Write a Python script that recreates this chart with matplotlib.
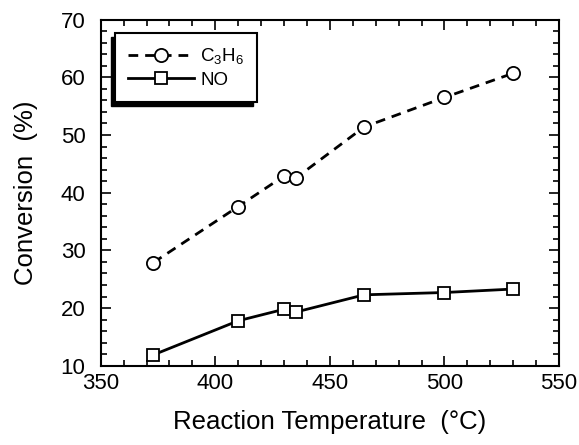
import matplotlib
matplotlib.use("Agg")
import matplotlib.pyplot as plt
from matplotlib.ticker import MultipleLocator
from matplotlib.patches import Rectangle
from matplotlib.transforms import IdentityTransform

plt.rcParams['font.family'] = ['Liberation Sans', 'DejaVu Sans']
plt.rcParams['mathtext.fontset'] = 'custom'
plt.rcParams['mathtext.rm'] = 'Liberation Sans'
plt.rcParams['mathtext.default'] = 'regular'

temps = [373, 410, 430, 435, 465, 500, 530]
c3h6 = [27.9, 37.6, 42.9, 42.5, 51.4, 56.5, 60.7]
no = [11.9, 17.8, 19.8, 19.3, 22.3, 22.7, 23.3]

fig = plt.figure(figsize=(5.79, 4.45), dpi=100)
ax = fig.add_axes([0.174, 0.178, 0.7915, 0.778])

ax.plot(temps, c3h6, linestyle=(0, (3.5, 2.5)), color='black', linewidth=2.0,
        marker='o', markersize=9.5, markerfacecolor='white', markeredgecolor='black',
        markeredgewidth=1.3, label='C$_3$H$_6$')
ax.plot(temps, no, linestyle='-', color='black', linewidth=2.0,
        marker='s', markersize=8.5, markerfacecolor='white', markeredgecolor='black',
        markeredgewidth=1.3, label='NO')

ax.set_xlim(350, 550)
ax.set_ylim(10, 70)
ax.xaxis.set_major_locator(MultipleLocator(50))
ax.xaxis.set_minor_locator(MultipleLocator(10))
ax.yaxis.set_major_locator(MultipleLocator(10))
ax.yaxis.set_minor_locator(MultipleLocator(2))
ax.tick_params(which='both', direction='in', top=True, right=True, width=1.2)
ax.tick_params(which='major', length=7)
ax.tick_params(which='minor', length=4)
ax.tick_params(axis='x', which='major', labelsize=16, pad=5)
ax.tick_params(axis='y', which='major', labelsize=16, pad=11)
for s in ax.spines.values():
    s.set_linewidth(1.5)

ax.set_xlabel('Reaction Temperature  (°C)', fontsize=18.5, labelpad=12)
ax.set_ylabel('Conversion  (%)', fontsize=18.5, labelpad=16)

leg = ax.legend(loc='upper left', bbox_to_anchor=(0.031, 0.961), borderaxespad=0,
                fontsize=13.5, handlelength=3.5, handletextpad=0.35, labelspacing=0.3,
                fancybox=False, frameon=True, edgecolor='black', borderpad=0.7,
                framealpha=1)
leg.get_frame().set_linewidth(1.5)
leg.set_zorder(6)

fig.canvas.draw()
bb = leg.get_window_extent()
shadow = Rectangle((bb.x0 - 4, bb.y0 - 4), bb.width, bb.height, transform=IdentityTransform(),
                   facecolor='black', edgecolor='black', zorder=5.5)
ax.add_artist(shadow)

fig.savefig('out.png', dpi=100)
